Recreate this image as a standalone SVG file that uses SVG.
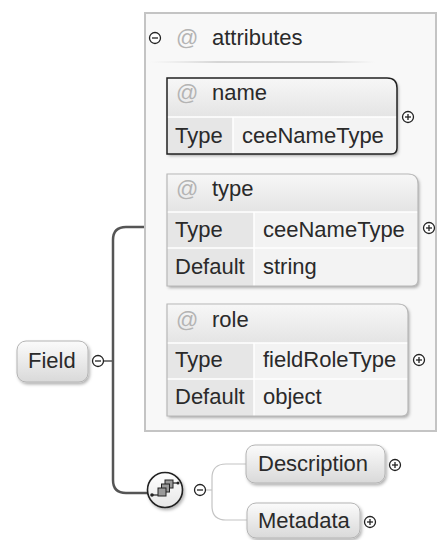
<svg xmlns="http://www.w3.org/2000/svg" width="437" height="540" viewBox="0 0 437 540">
<defs>
<linearGradient id="btn" x1="0" y1="0" x2="0" y2="1">
<stop offset="0" stop-color="#fbfbfb"/><stop offset="1" stop-color="#d9d9d9"/>
</linearGradient>
<linearGradient id="hdr" x1="0" y1="0" x2="0" y2="1">
<stop offset="0" stop-color="#f7f7f7"/><stop offset="1" stop-color="#e4e4e4"/>
</linearGradient>
<linearGradient id="sep" x1="0" y1="0" x2="1" y2="0">
<stop offset="0" stop-color="#e0e0e0" stop-opacity="0"/><stop offset="0.3" stop-color="#d6d6d6"/><stop offset="0.8" stop-color="#dcdcdc"/><stop offset="1" stop-color="#e0e0e0" stop-opacity="0"/>
</linearGradient>
<linearGradient id="seqg" x1="0" y1="0" x2="0" y2="1">
<stop offset="0" stop-color="#ffffff"/><stop offset="1" stop-color="#e6e6e6"/>
</linearGradient>
<filter id="sh" x="-10%" y="-10%" width="130%" height="140%">
<feDropShadow dx="1.5" dy="2" stdDeviation="1.5" flood-color="#000" flood-opacity="0.3"/>
</filter>
</defs>
<style>
text{font-family:"Liberation Sans",Arial,sans-serif;font-size:22px;fill:#2a2a2a}
.at{fill:#b4b4b4}
.btn{fill:url(#btn);stroke:#b4b4b4;stroke-width:1}
.lab{fill:#e6e6e6}
.val{fill:#f3f3f3}
.div{stroke:#ffffff;stroke-width:1.5}
.tog{fill:#fff;stroke:#222;stroke-width:1.3}
.sign{stroke:#222;stroke-width:1.3}
.conn{fill:none;stroke:#555;stroke-width:2.5}
.conn2{fill:none;stroke:#c4c4c4;stroke-width:1.2}
</style>

<g id="connectors">
<line x1="103.5" y1="361" x2="113" y2="361" class="conn" style="stroke-width:1.5"/>
<path class="conn" d="M147 227 H126 Q113 227 113 240 V480 Q113 493 126 493 H148"/>
<line x1="205.5" y1="490" x2="212" y2="490" class="conn2"/>
<path class="conn2" d="M247 464 H226 Q212 464 212 478 V506 Q212 520 226 520 H247"/>
</g>

<g id="attributes">
<rect x="145" y="13" width="291" height="418" fill="#f8f8f8" stroke="#c4c4c4" stroke-width="2"/>
<rect x="150" y="61" width="225" height="2" fill="url(#sep)"/>
<circle cx="155" cy="38" r="5.5" class="tog"/><line x1="152" y1="38" x2="158" y2="38" class="sign"/>
<text x="176" y="45" class="at">@</text>
<text x="212" y="45">attributes</text>
</g>

<g id="name">
<path d="M167 78 H387 Q397 78 397 88 V148 Q397 154 391 154 H167 Z" fill="#f3f3f3" filter="url(#sh)"/>
<path d="M167 78 H387 Q397 78 397 88 V117 H167 Z" fill="url(#hdr)"/>
<rect x="167" y="117" width="66" height="37" class="lab"/>
<line x1="167" y1="117" x2="397" y2="117" class="div"/>
<line x1="233" y1="117" x2="233" y2="154" class="div"/>
<path d="M167 78 H387 Q397 78 397 88 V148 Q397 154 391 154 H167 Z" fill="none" stroke="#222" stroke-width="1.5"/>
<text x="176" y="100" class="at">@</text>
<text x="212" y="100">name</text>
<text x="175" y="143">Type</text>
<text x="242" y="143">ceeNameType</text>
<circle cx="408" cy="117" r="5.5" class="tog"/><line x1="405" y1="117" x2="411" y2="117" class="sign"/><line x1="408" y1="114" x2="408" y2="120" class="sign"/>
</g>

<g id="type">
<path d="M167 174 H408 Q418 174 418 184 V280 Q418 286 412 286 H167 Z" fill="#f3f3f3" filter="url(#sh)"/>
<path d="M167 174 H408 Q418 174 418 184 V212 H167 Z" fill="url(#hdr)"/>
<rect x="167" y="212" width="87" height="74" class="lab"/>
<line x1="167" y1="212" x2="418" y2="212" class="div"/>
<line x1="167" y1="248" x2="418" y2="248" class="div"/>
<line x1="254" y1="212" x2="254" y2="286" class="div"/>
<path d="M167 174 H408 Q418 174 418 184 V280 Q418 286 412 286 H167 Z" fill="none" stroke="#b8b8b8" stroke-width="1.2"/>
<text x="176" y="196" class="at">@</text>
<text x="212" y="196">type</text>
<text x="175" y="237">Type</text>
<text x="263" y="237">ceeNameType</text>
<text x="175" y="274">Default</text>
<text x="263" y="274">string</text>
<circle cx="429" cy="228" r="5.5" class="tog"/><line x1="426" y1="228" x2="432" y2="228" class="sign"/><line x1="429" y1="225" x2="429" y2="231" class="sign"/>
</g>

<g id="role">
<path d="M167 304 H398 Q408 304 408 314 V410 Q408 416 402 416 H167 Z" fill="#f3f3f3" filter="url(#sh)"/>
<path d="M167 304 H398 Q408 304 408 314 V343 H167 Z" fill="url(#hdr)"/>
<rect x="167" y="343" width="87" height="73" class="lab"/>
<line x1="167" y1="343" x2="408" y2="343" class="div"/>
<line x1="167" y1="379" x2="408" y2="379" class="div"/>
<line x1="254" y1="343" x2="254" y2="416" class="div"/>
<path d="M167 304 H398 Q408 304 408 314 V410 Q408 416 402 416 H167 Z" fill="none" stroke="#b8b8b8" stroke-width="1.2"/>
<text x="176" y="327" class="at">@</text>
<text x="212" y="327">role</text>
<text x="175" y="367">Type</text>
<text x="263" y="367">fieldRoleType</text>
<text x="175" y="404">Default</text>
<text x="263" y="404">object</text>
<circle cx="419" cy="360" r="5.5" class="tog"/><line x1="416" y1="360" x2="422" y2="360" class="sign"/><line x1="419" y1="357" x2="419" y2="363" class="sign"/>
</g>

<g id="field">
<rect x="17" y="341" width="71" height="41" rx="9" class="btn" filter="url(#sh)"/>
<text x="28" y="368">Field</text>
<circle cx="98" cy="361" r="5.5" class="tog"/><line x1="95" y1="361" x2="101" y2="361" class="sign"/>
</g>

<g id="sequence">
<circle cx="165" cy="490" r="17.5" fill="url(#seqg)" stroke="#222" stroke-width="1.6" filter="url(#sh)"/>
<line x1="152" y1="495" x2="158" y2="495" stroke="#222" stroke-width="1.2"/>
<circle cx="152" cy="495" r="1.8" fill="#222"/>
<rect x="165" y="480" width="8" height="8" fill="#9a9a9a" stroke="#222" stroke-width="1"/>
<rect x="161.5" y="484" width="8" height="8" fill="#9a9a9a" stroke="#222" stroke-width="1"/>
<rect x="158" y="488" width="8" height="8" fill="#9a9a9a" stroke="#222" stroke-width="1"/>
<line x1="173" y1="483" x2="178" y2="483" stroke="#222" stroke-width="1.2"/>
<circle cx="178" cy="483" r="1.5" fill="#222"/>
<circle cx="200" cy="490" r="5.5" class="tog"/><line x1="197" y1="490" x2="203" y2="490" class="sign"/>
</g>

<g id="description">
<rect x="246" y="445" width="139" height="38" rx="9" class="btn" filter="url(#sh)"/>
<text x="258" y="471">Description</text>
<circle cx="395" cy="465" r="5.5" class="tog"/><line x1="392" y1="465" x2="398" y2="465" class="sign"/><line x1="395" y1="462" x2="395" y2="468" class="sign"/>
</g>

<g id="metadata">
<rect x="247" y="503" width="113" height="35" rx="9" class="btn" filter="url(#sh)"/>
<text x="258" y="528">Metadata</text>
<circle cx="370" cy="522" r="5.5" class="tog"/><line x1="367" y1="522" x2="373" y2="522" class="sign"/><line x1="370" y1="519" x2="370" y2="525" class="sign"/>
</g>
</svg>
